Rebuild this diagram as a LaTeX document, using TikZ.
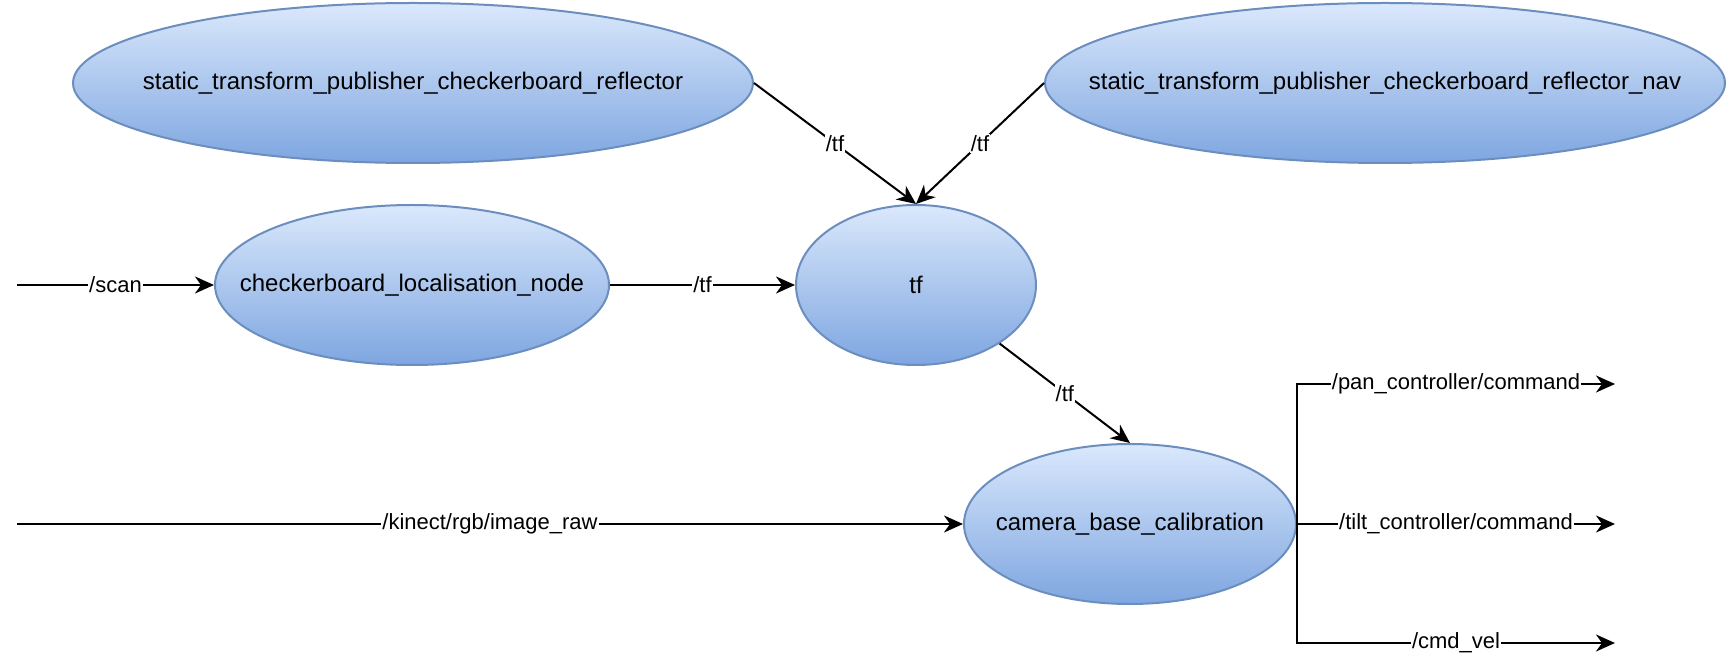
\documentclass[tikz,border=0pt]{standalone}
\usepackage{fontspec}
\setmainfont{Liberation Sans}
\usetikzlibrary{shapes.geometric,arrows.meta}
\definecolor{nodetop}{HTML}{DAE8FC}
\definecolor{nodebottom}{HTML}{7EA6E0}
\definecolor{nodeline}{HTML}{6C8EBF}
\newcommand{\rosname}[1]{\makebox[0pt]{#1}}
\tikzstyle{rosnode}=[ellipse, draw=nodeline, line width=1pt, top color=nodetop, bottom color=nodebottom, inner sep=0pt, minimum height=80pt, font=\fontsize{12}{14}\selectfont]
\tikzstyle{topic}=[fill=white, inner sep=0.5pt, font=\fontsize{11}{13}\selectfont]
\tikzstyle{wire}=[line width=1pt, -{Stealth[length=9.5pt, width=8.5pt, inset=3pt]}]

\begin{document}
\begin{tikzpicture}[x=0.5pt, y=-0.5pt]
                    \useasboundingbox (0, 0) rectangle (1729, 662);
                    \node[rosnode, minimum width=340pt] (reflector) at (413, 83) {\rosname{static\_transform\_publisher\_checkerboard\_reflector}};
                    \node[rosnode, minimum width=340pt] (nav) at (1385, 83) {\rosname{static\_transform\_publisher\_checkerboard\_reflector\_nav}};
                    \node[rosnode, minimum width=197pt] (loc) at (412, 285) {\rosname{checkerboard\_localisation\_node}};
                    \node[rosnode, minimum width=120pt] (tf) at (916, 285) {\rosname{tf}};
                    \node[rosnode, minimum width=166pt] (cam) at (1130, 524) {\rosname{camera\_base\_calibration}};
                    \coordinate (scanin) at (17, 285);
                    \coordinate (kinectin) at (17, 524);
                    \coordinate (panout) at (1615, 384);
                    \coordinate (tiltout) at (1615, 524);
                    \coordinate (velout) at (1615, 643);
                    \draw[wire] (scanin) to node[topic] {/scan} (loc);
                    \draw[wire] (loc) to node[topic] {/tf} (tf);
                    \draw[wire] (reflector.east) to node[topic] {/tf} (tf.north);
                    \draw[wire] (nav.west) to node[topic] {/tf} (tf.north);
                    \draw[wire] (tf.-35) to node[topic] {/tf} (cam.north);
                    \draw[wire] (kinectin) to node[topic] {/kinect/rgb/image\_raw} (cam);
                    \draw[wire] (cam.east) |- node[topic, pos=0.75] {/pan\_controller/command} (panout);
                    \draw[wire] (cam.east) to node[topic] {/tilt\_controller/command} (tiltout);
                    \draw[wire] (cam.east) |- node[topic, pos=0.75] {/cmd\_vel} (velout);
                \end{tikzpicture}
\end{document}
